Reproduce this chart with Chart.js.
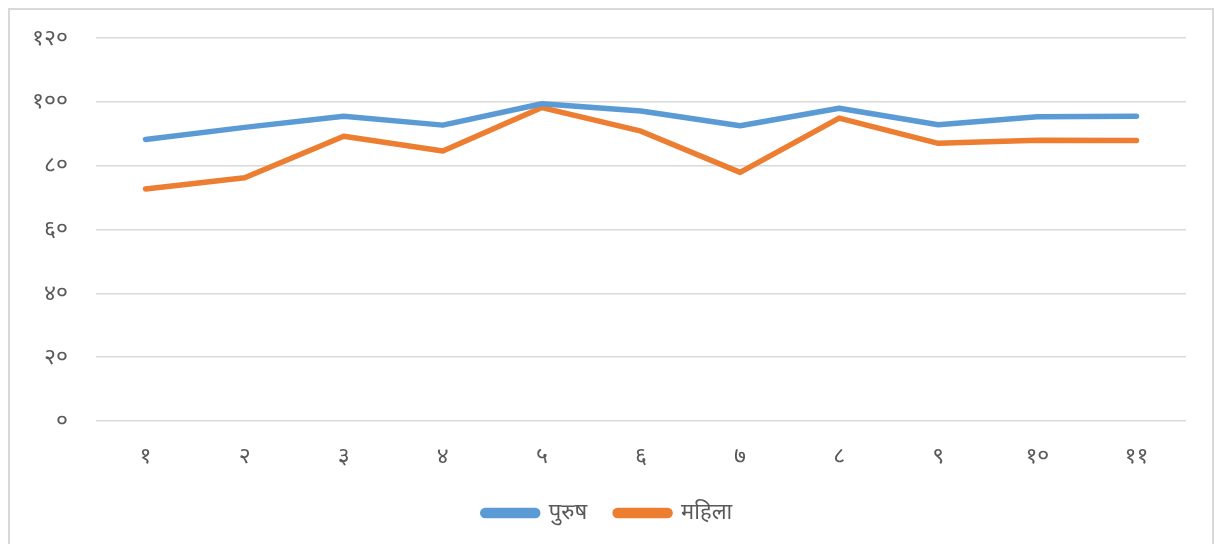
<!DOCTYPE html>
<html>
<head>
<meta charset="utf-8">
<script src="https://cdn.jsdelivr.net/npm/chart.js"></script>
<style>
    html, body { margin: 0; padding: 0; background: #fff; }
    #frame {
        position: absolute; left: 8px; top: 8px; width: 1202px; height: 560px;
        border: 2px solid #d9d9d9;
    }
    #wrap { position: absolute; left: 0; top: 0; width: 1215px; height: 544px; }
</style>
</head>
<body>
<div id="frame"></div>
<div id="wrap"><canvas id="lineChart"></canvas></div>
<script>
// categories (Devanagari numerals 1..11)
const categories = ['१', '२', '३', '४', '५', '६', '७', '८', '९', '१०', '११'];
// series values
const purush = [88.2, 92.0, 95.5, 92.7, 99.4, 97.1, 92.5, 98.0, 92.8, 95.3, 95.5];
const mahila = [72.7, 76.2, 89.2, 84.6, 98.2, 90.8, 77.9, 94.9, 87.0, 88.0, 87.9];
// y tick labels for 0, 20, ... 120
const yTickLabels = ['०', '२०', '४०', '६०', '८०', '१००', '१२०'];

const FONT = "'Noto Sans', sans-serif";
const TEXT = '#595959';

Chart.defaults.font.family = FONT;
Chart.defaults.color = TEXT;

const ctx = document.getElementById('lineChart').getContext('2d');

new Chart(ctx, {
    type: 'line',
    data: {
        labels: categories,
        datasets: [
            {
                label: 'पुरुष',
                data: purush,
                borderColor: '#5b9bd5',
                backgroundColor: '#5b9bd5',
                borderWidth: 5.5,
                pointRadius: 0,
                tension: 0,
                borderCapStyle: 'round',
                borderJoinStyle: 'round'
            },
            {
                label: 'महिला',
                data: mahila,
                borderColor: '#ed7d31',
                backgroundColor: '#ed7d31',
                borderWidth: 5.5,
                pointRadius: 0,
                tension: 0,
                borderCapStyle: 'round',
                borderJoinStyle: 'round'
            }
        ]
    },
    options: {
        responsive: true,
        maintainAspectRatio: false,
        animation: false,
        // left padding mirrors the right one so the legend sits centred on the page
        layout: { padding: { top: 38, right: 29, bottom: 10, left: 29 } },
        plugins: {
            tooltip: { enabled: false },
            legend: {
                position: 'bottom',
                labels: {
                    boxWidth: 55,
                    boxHeight: 5,
                    useBorderRadius: true,
                    borderRadius: 2.5,
                    padding: 28,
                    color: TEXT,
                    font: { size: 22, family: FONT }
                }
            }
        },
        scales: {
            x: {
                offset: true,
                grid: { display: false, drawTicks: false },
                border: { display: false },
                ticks: { padding: 22, color: TEXT, font: { size: 23, family: FONT } },
                afterFit: (scale) => { scale.height = 53; }
            },
            y: {
                min: 0,
                max: 120,
                grid: { color: '#d9d9d9', lineWidth: 1.5, drawTicks: false },
                border: { display: false },
                ticks: {
                    stepSize: 20,
                    padding: 28,
                    color: TEXT,
                    font: { size: 23, family: FONT },
                    callback: (value, index) => yTickLabels[index]
                },
                afterFit: (scale) => {
                    scale.width = 67;
                    scale.paddingTop = 0;
                }
            }
        }
    }
});
</script>
</body>
</html>
